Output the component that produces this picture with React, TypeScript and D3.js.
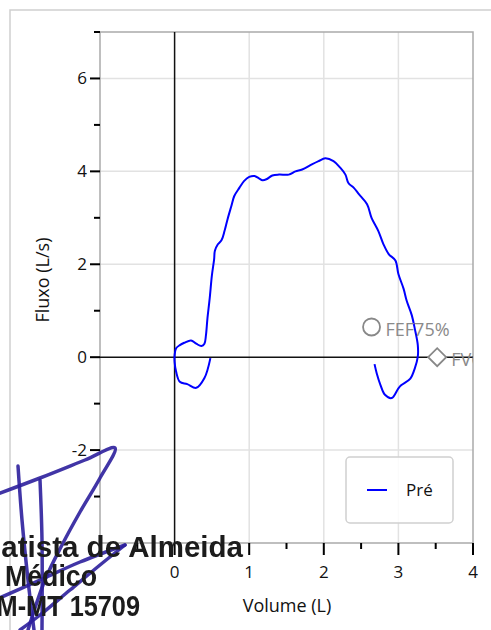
import { useEffect, useRef } from "react";
import * as d3 from "d3";

// flow-volume loop, Pré (volume L, flow L/s)
const volume = [
  0.48, 0.4, 0.29, 0.17, 0.07, 0.02, 0.0, 0.0, 0.02, 0.07, 0.13, 0.22, 0.29, 0.36, 0.4, 0.42,
  0.44, 0.47, 0.5, 0.53, 0.54, 0.58, 0.63, 0.67, 0.71, 0.76, 0.8, 0.87, 0.93, 1.0, 1.07, 1.13,
  1.18, 1.23, 1.31, 1.4, 1.53, 1.62, 1.71, 1.84, 1.93, 2.02, 2.13, 2.22, 2.29, 2.33, 2.4, 2.47,
  2.58, 2.64, 2.73, 2.8, 2.87, 2.96, 3.0, 3.07, 3.11, 3.18, 3.22, 3.26, 3.26, 3.22, 3.16, 3.04,
  3.0, 2.91, 2.82, 2.76, 2.71, 2.68,
];
const flow = [
  -0.02, -0.45, -0.66, -0.58, -0.53, -0.31, -0.1, 0.04, 0.19, 0.26, 0.31, 0.36, 0.29, 0.24, 0.29, 0.47,
  0.83, 1.26, 1.76, 2.11, 2.29, 2.43, 2.52, 2.72, 2.97, 3.25, 3.47, 3.65, 3.79, 3.88, 3.9, 3.85,
  3.81, 3.83, 3.91, 3.93, 3.93, 4.0, 4.04, 4.15, 4.22, 4.28, 4.22, 4.08, 3.93, 3.75, 3.65, 3.51,
  3.29, 3.0, 2.72, 2.43, 2.22, 2.08, 1.79, 1.47, 1.22, 0.9, 0.61, 0.26, 0.01, -0.24, -0.46, -0.6,
  -0.67, -0.88, -0.81, -0.6, -0.35, -0.15,
];

const xTicks = [0, 1, 2, 3, 4];
const xMinor = [-0.5, 0.5, 1.5, 2.5, 3.5];
const yTicks = [-2, 0, 2, 4, 6];
const yMinor = [-3, -1, 1, 3, 5, 7];
const xGrid = [1, 2, 3];
const yGrid = [-2, 2, 4, 6];

const markers = [
  { label: "FEF75%", vol: 2.64, flow: 0.65, shape: "circle" },
  { label: "FVC", vol: 3.52, flow: 0, shape: "diamond" },
];

// signature overlay (decorative scribble, pixel space)
const sigStrokes = [
  [[-5, 495], [40, 478], [85, 460], [115, 448], [100, 478], [80, 512], [62, 545], [45, 580], [28, 630]],
  [[18, 466], [22, 520], [28, 580], [34, 630]],
  [[40, 480], [42, 540], [42, 630]],
  [[125, 545], [100, 565], [70, 590], [40, 615], [20, 630]],
  [[-5, 600], [40, 580], [80, 562], [125, 545]],
];

export default function App() {
  const svgRef = useRef<SVGSVGElement>(null);
  const width = 491;
  const height = 630;

  useEffect(() => {
    if (!svgRef.current) return;
    const svg = d3.select(svgRef.current);
    svg.selectAll("*").remove();

    const font = "'Open Sans', 'Noto Sans', sans-serif";
    const left = 100, top = 32, right = 473, bottom = 543;

    const x = d3.scaleLinear().domain([-1, 4]).range([left, right]);
    const y = d3.scaleLinear().domain([-4, 7]).range([bottom, top]);

    // outer frame
    svg.append("rect")
      .attr("x", 10).attr("y", 10)
      .attr("width", 520).attr("height", 660)
      .attr("fill", "#fff")
      .attr("stroke", "#cfcfcf")
      .attr("stroke-width", 1.5);

    const defs = svg.append("defs");
    defs.append("clipPath").attr("id", "plotClip")
      .append("rect")
      .attr("x", left).attr("y", top)
      .attr("width", right - left).attr("height", bottom - top);
    const blur = defs.append("filter").attr("id", "soft");
    blur.append("feGaussianBlur").attr("stdDeviation", 0.7);

    // grid
    svg.append("g").selectAll("line").data(xGrid).join("line")
      .attr("x1", (d) => x(d)).attr("x2", (d) => x(d))
      .attr("y1", top).attr("y2", bottom)
      .attr("stroke", "#e2e2e2").attr("stroke-width", 1.5);
    svg.append("g").selectAll("line").data(yGrid).join("line")
      .attr("x1", left).attr("x2", right)
      .attr("y1", (d) => y(d)).attr("y2", (d) => y(d))
      .attr("stroke", "#e2e2e2").attr("stroke-width", 1.5);

    // plot border
    svg.append("rect")
      .attr("x", left).attr("y", top)
      .attr("width", right - left).attr("height", bottom - top)
      .attr("fill", "none")
      .attr("stroke", "#aaa")
      .attr("stroke-width", 1.5);

    // zero axes
    svg.append("line")
      .attr("x1", x(0)).attr("x2", x(0)).attr("y1", top).attr("y2", bottom)
      .attr("stroke", "#111").attr("stroke-width", 1.5);
    svg.append("line")
      .attr("x1", left).attr("x2", right).attr("y1", y(0)).attr("y2", y(0))
      .attr("stroke", "#111").attr("stroke-width", 1.5);

    // y ticks
    svg.append("g").selectAll("line").data(yTicks).join("line")
      .attr("x1", left - 10).attr("x2", left)
      .attr("y1", (d) => y(d)).attr("y2", (d) => y(d))
      .attr("stroke", "#000").attr("stroke-width", 2);
    svg.append("g").selectAll("line").data(yMinor).join("line")
      .attr("x1", left - 6).attr("x2", left)
      .attr("y1", (d) => y(d)).attr("y2", (d) => y(d))
      .attr("stroke", "#000").attr("stroke-width", 2);
    svg.append("g").selectAll("text").data(yTicks).join("text")
      .attr("x", left - 13)
      .attr("y", (d) => y(d))
      .attr("dy", "0.35em")
      .attr("text-anchor", "end")
      .style("font-family", font)
      .style("font-size", "17px")
      .style("fill", "#111")
      .text((d) => String(d));

    // x ticks
    svg.append("g").selectAll("line").data(xTicks).join("line")
      .attr("x1", (d) => x(d)).attr("x2", (d) => x(d))
      .attr("y1", bottom).attr("y2", bottom + 12)
      .attr("stroke", "#000").attr("stroke-width", 2);
    svg.append("g").selectAll("line").data(xMinor).join("line")
      .attr("x1", (d) => x(d)).attr("x2", (d) => x(d))
      .attr("y1", bottom).attr("y2", bottom + 6)
      .attr("stroke", "#000").attr("stroke-width", 2);
    svg.append("g").selectAll("text").data(xTicks).join("text")
      .attr("x", (d) => x(d))
      .attr("y", bottom + 35)
      .attr("text-anchor", "middle")
      .style("font-family", font)
      .style("font-size", "17px")
      .style("fill", "#111")
      .text((d) => String(d));

    // axis titles
    svg.append("text")
      .attr("x", 287).attr("y", 612)
      .attr("text-anchor", "middle")
      .style("font-family", font)
      .style("font-size", "18px")
      .style("fill", "#111")
      .text("Volume (L)");
    svg.append("text")
      .attr("transform", "translate(49,280) rotate(-90)")
      .attr("text-anchor", "middle")
      .style("font-family", font)
      .style("font-size", "18px")
      .style("fill", "#111")
      .text("Fluxo (L/s)");

    const plot = svg.append("g").attr("clip-path", "url(#plotClip)");

    // curve
    const pts = volume.map((v, i) => [v, flow[i]] as [number, number]);
    const line = d3.line<[number, number]>()
      .x((d) => x(d[0]))
      .y((d) => y(d[1]))
      .curve(d3.curveCatmullRom.alpha(0.5));
    plot.append("path")
      .datum(pts)
      .attr("d", line)
      .attr("fill", "none")
      .attr("stroke", "#0000ff")
      .attr("stroke-width", 2);

    // markers
    markers.forEach((m) => {
      const cx = x(m.vol), cy = y(m.flow);
      if (m.shape === "circle") {
        plot.append("circle")
          .attr("cx", cx).attr("cy", cy).attr("r", 8.5)
          .attr("fill", "none").attr("stroke", "#888").attr("stroke-width", 1.8);
      } else {
        plot.append("path")
          .attr("d", `M${cx - 9},${cy}L${cx},${cy - 9}L${cx + 9},${cy}L${cx},${cy + 9}Z`)
          .attr("fill", "#fff").attr("stroke", "#888").attr("stroke-width", 1.8);
      }
      plot.append("text")
        .attr("x", cx + 14).attr("y", cy + 3)
        .attr("dy", "0.35em")
        .style("font-family", font)
        .style("font-size", "18px")
        .style("fill", "#8a8a8a")
        .text(m.label);
    });

    // legend
    svg.append("rect")
      .attr("x", 346).attr("y", 457)
      .attr("width", 107).attr("height", 66)
      .attr("rx", 4)
      .attr("fill", "#fff").attr("fill-opacity", 0.85)
      .attr("stroke", "#d0d0d0").attr("stroke-width", 1.5);
    svg.append("line")
      .attr("x1", 367).attr("x2", 387).attr("y1", 490).attr("y2", 490)
      .attr("stroke", "#0000ff").attr("stroke-width", 2);
    svg.append("text")
      .attr("x", 406).attr("y", 490)
      .attr("dy", "0.35em")
      .style("font-family", font)
      .style("font-size", "17px")
      .style("fill", "#111")
      .text("Pré");

    // signature overlay
    const sig = svg.append("g");
    const sigLine = d3.line<number[]>().x((d) => d[0]).y((d) => d[1]).curve(d3.curveCatmullRom);
    sig.selectAll("path").data(sigStrokes).join("path")
      .attr("d", (d) => sigLine(d) || "")
      .attr("fill", "none")
      .attr("stroke", "#2c1f9c")
      .attr("stroke-width", 3.5)
      .attr("stroke-linecap", "round")
      .attr("opacity", 0.9);
    const sigText = [
      { t: "Batista de Almeida", x: -20, y: 557, w: 263 },
      { t: "Médico", x: 5, y: 586, w: 92 },
      { t: "CRM-MT 15709", x: -40, y: 616, w: 180 },
    ];
    sig.selectAll("text").data(sigText).join("text")
      .attr("x", (d) => d.x).attr("y", (d) => d.y)
      .attr("textLength", (d) => d.w)
      .attr("lengthAdjust", "spacingAndGlyphs")
      .attr("filter", "url(#soft)")
      .style("font-family", "'Liberation Sans', Arial, sans-serif")
      .style("font-weight", "bold")
      .style("font-size", "30px")
      .style("fill", "#1a1a1a")
      .text((d) => d.t);
  }, []);

  return (
    <svg
      ref={svgRef}
      width={width}
      height={height}
      style={{ position: "absolute", left: 0, top: 0, background: "#fff" }}
    />
  );
}
